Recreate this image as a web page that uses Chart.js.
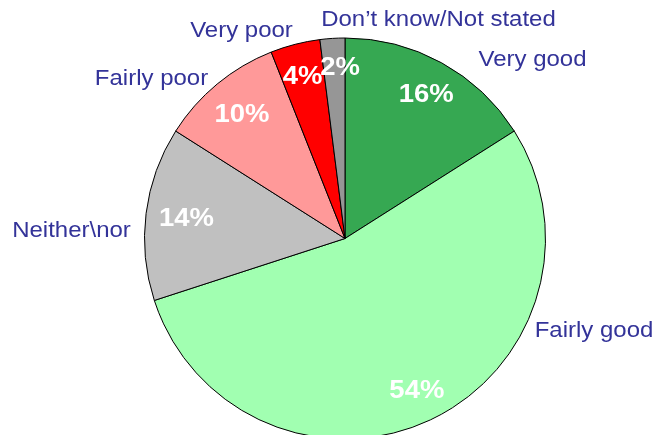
<!DOCTYPE html>
<html>
<head>
<meta charset="utf-8">
<script src="https://cdn.jsdelivr.net/npm/chart.js@4.4.1/dist/chart.umd.min.js"></script>
<style>
  html, body { margin: 0; padding: 0; background: #ffffff; overflow: hidden; }
  #wrap { position: relative; width: 657px; height: 460px; }
</style>
</head>
<body>
<div id="wrap"><canvas id="c"></canvas></div>
<script>
// ---- Data ----
const categories = ['Very good', 'Fairly good', 'Neither\\nor', 'Fairly poor', 'Very poor', 'Don\u2019t know/Not stated'];
const percentages = [16, 54, 14, 10, 4, 2];
const sliceColors = ['#36A852', '#A1FFB1', '#C0C0C0', '#FF9999', '#FF0000', '#969696'];

// ---- Label styling (positions relative to pie centre, pixels) ----
const outerLabelBaselines = [
  [187.5, -172.5],
  [249, 98.5],
  [-273.5, -1.5],
  [-193.5, -153.5],
  [-103.5, -201.5],
  [93.5, -212.5]
];
const pctRadiusFactor = 0.83;
const pctNudges = [[1, 0], [1, 0], [6.5, -1], [3, 3], [-1, -2], [5.5, -6]];

function drawScaledText(ctx, text, x, y, sx) {
  ctx.save();
  ctx.translate(x, y);
  ctx.scale(sx, 1);
  ctx.fillText(text, 0, 0);
  ctx.restore();
}

const labelPlugin = {
  id: 'pieLabels',
  afterDatasetsDraw(chart) {
    const ctx = chart.ctx;
    const meta = chart.getDatasetMeta(0);
    ctx.save();
    ctx.textAlign = 'center';
    ctx.textBaseline = 'alphabetic';
    meta.data.forEach((arc, i) => {
      const p = arc.getProps(['x', 'y', 'startAngle', 'endAngle', 'outerRadius'], true);
      const mid = (p.startAngle + p.endAngle) / 2;
      const r = p.outerRadius * pctRadiusFactor;
      const px = p.x + Math.cos(mid) * r + pctNudges[i][0];
      const py = p.y + Math.sin(mid) * r + pctNudges[i][1];
      ctx.fillStyle = '#FFFFFF';
      ctx.font = 'bold 25px "Liberation Sans", Arial, sans-serif';
      drawScaledText(ctx, percentages[i] + '%', px, py + 9, 1.1);

      ctx.fillStyle = '#333399';
      ctx.font = '22px "Liberation Sans", Arial, sans-serif';
      drawScaledText(ctx, categories[i], p.x + outerLabelBaselines[i][0], p.y + outerLabelBaselines[i][1], 1.09);
    });
    ctx.restore();
  }
};

new Chart(document.getElementById('c'), {
  type: 'pie',
  data: {
    labels: categories,
    datasets: [{
      data: percentages,
      backgroundColor: sliceColors,
      borderColor: '#000000',
      borderWidth: 1,
      borderAlign: 'center'
    }]
  },
  options: {
    responsive: true,
    maintainAspectRatio: false,
    animation: false,
    layout: { padding: { left: 144, right: 111, top: 37, bottom: 20 } },
    plugins: {
      legend: { display: false },
      tooltip: { enabled: false },
      title: { display: false }
    }
  },
  plugins: [labelPlugin]
});
</script>
</body>
</html>
